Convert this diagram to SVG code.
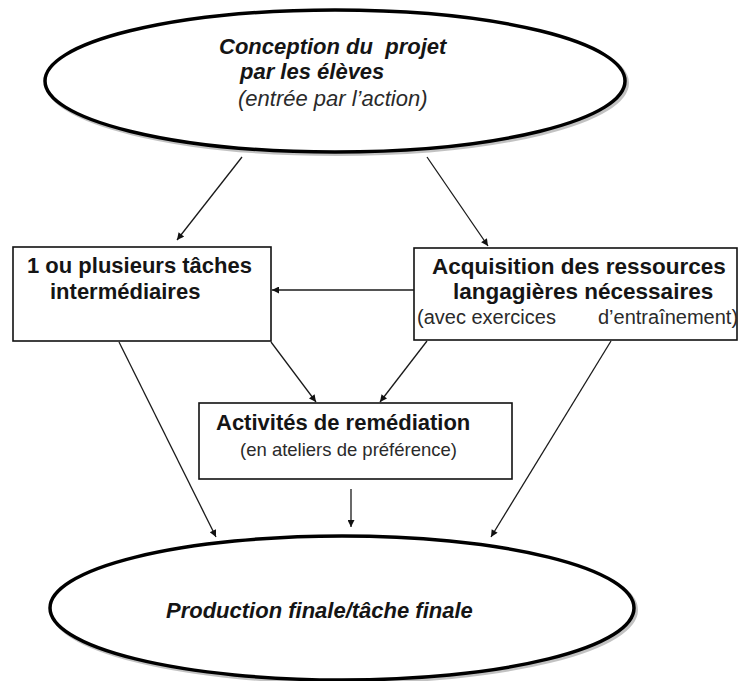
<svg xmlns="http://www.w3.org/2000/svg" width="738" height="681" viewBox="0 0 738 681">
<style>
  text { font-family: "Liberation Sans", Arial, sans-serif; fill: #151515; }
  .bi { font-weight: bold; font-style: italic; font-size: 22px; }
  .i { font-style: italic; font-size: 22px; fill: #2a2a2a; }
  .b { font-weight: bold; font-size: 22px; }
  .b23 { font-weight: bold; font-size: 22.5px; }
  .r20 { font-size: 20px; fill: #2a2a2a; }
  .r18 { font-size: 18.5px; fill: #2a2a2a; }
  .ell { fill: #fff; stroke: #000; stroke-width: 3.5; }
  .shadow { fill: none; stroke: #9a9a9a; stroke-width: 4; opacity: 0.6; }
  .box { fill: #fff; stroke: #111; stroke-width: 1.6; }
  .conn line { stroke: #1a1a1a; stroke-width: 1.3; marker-end: url(#arr); }
</style>
<defs>
  <marker id="arr" viewBox="0 0 10 10" refX="10" refY="5" markerWidth="9" markerHeight="7" markerUnits="userSpaceOnUse" orient="auto">
    <path d="M0,0 L10,5 L0,10 z" fill="#111"/>
  </marker>
</defs>
<rect width="738" height="681" fill="#fff"/>

<g id="conception">
  <ellipse class="shadow" cx="337" cy="83" rx="290" ry="71"/>
  <ellipse class="ell" cx="335" cy="81" rx="290" ry="71"/>
  <text class="bi" x="219" y="54" xml:space="preserve">Conception du  projet</text>
  <text class="bi" x="240" y="79">par les élèves</text>
  <text class="i" x="238" y="106">(entrée par l’action)</text>
</g>

<g id="taches">
  <rect class="box" x="13" y="247" width="258" height="94"/>
  <text class="b" x="27" y="273">1 ou plusieurs tâches</text>
  <text class="b" x="50" y="299">intermédiaires</text>
</g>

<g id="acquisition">
  <rect class="box" x="414" y="248" width="323" height="92"/>
  <text class="b23" x="432" y="274">Acquisition des ressources</text>
  <text class="b23" x="453" y="299">langagières nécessaires</text>
  <text class="r20" y="324"><tspan x="417">(avec exercices</tspan><tspan x="598">d’entraînement)</tspan></text>
</g>

<g id="remediation">
  <rect class="box" x="199" y="403" width="313" height="76"/>
  <text class="b" x="216" y="430">Activités de remédiation</text>
  <text class="r18" x="240" y="456">(en ateliers de préférence)</text>
</g>

<g id="production">
  <ellipse class="shadow" cx="344" cy="610" rx="292" ry="72"/>
  <ellipse class="ell" cx="342" cy="608" rx="292" ry="72"/>
  <text class="bi" x="166" y="618">Production finale/tâche finale</text>
</g>

<g id="connectors" class="conn">
  <line x1="242" y1="157" x2="177" y2="240"/>
  <line x1="427" y1="157" x2="488" y2="246"/>
  <line x1="414" y1="290" x2="272" y2="290"/>
  <line x1="271" y1="342" x2="316" y2="402"/>
  <line x1="427" y1="341" x2="380" y2="402"/>
  <line x1="119" y1="342" x2="216" y2="537"/>
  <line x1="611" y1="341" x2="491" y2="537"/>
  <line x1="351" y1="489" x2="351" y2="527"/>
</g>
</svg>
